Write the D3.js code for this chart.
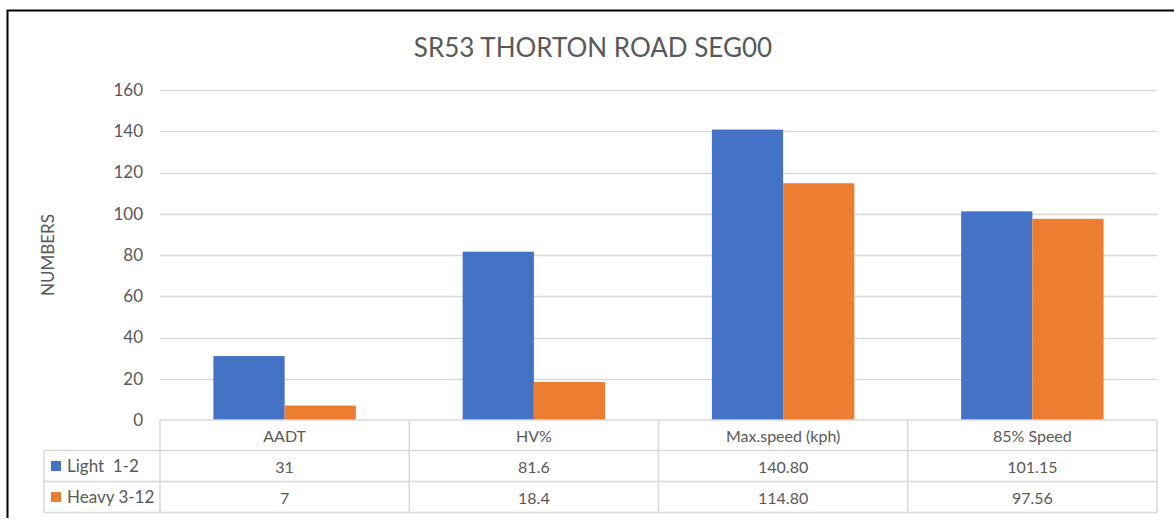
<!DOCTYPE html>
<html>
<head>
<meta charset="utf-8">
<script src="https://cdn.jsdelivr.net/npm/d3@7"></script>
<style>
  html, body { margin: 0; padding: 0; background: #fff; }
  svg text { font-family: Lato, "Open Sans", sans-serif; fill: #595959; }
</style>
</head>
<body>
<div id="chart"></div>
<script>
// chart data
const title = 'SR53 THORTON ROAD SEG00';
const categories = ['AADT', 'HV%', 'Max.speed (kph)', '85% Speed'];
const seriesNames = ['Light  1-2', 'Heavy 3-12'];
const lightValues = [31, 81.6, 140.80, 101.15];
const heavyValues = [7, 18.4, 114.80, 97.56];
const lightLabels = ['31', '81.6', '140.80', '101.15'];
const heavyLabels = ['7', '18.4', '114.80', '97.56'];
const yTicks = [0, 20, 40, 60, 80, 100, 120, 140, 160];

const colors = ['#4472c4', '#ed7d31'];
const W = 1174, H = 519;

const svg = d3.select('#chart').append('svg')
  .attr('width', W).attr('height', H);

// outer frame (left + top visible)
svg.append('path')
  .attr('d', 'M7.5,518 L7.5,10.5 L1174,10.5')
  .attr('fill', 'none').attr('stroke', '#000').attr('stroke-width', 2);

const plot = { left: 160, right: 1157, top: 90, bottom: 420 };

const x = d3.scaleBand().domain(categories).range([plot.left, plot.right]);
const y = d3.scaleLinear().domain([0, 160]).range([plot.bottom, plot.top]);
const inner = d3.scaleBand().domain(seriesNames).range([0, x.bandwidth()])
  .paddingInner(0).paddingOuter(0.75);

// title
svg.append('text')
  .attr('x', 593).attr('y', 57)
  .attr('text-anchor', 'middle')
  .style('font-size', '26px')
  .text(title);

// gridlines
svg.append('g').selectAll('line')
  .data(yTicks.filter(d => d > 0))
  .join('line')
  .attr('x1', plot.left).attr('x2', plot.right)
  .attr('y1', d => Math.round(y(d)) + 0.5).attr('y2', d => Math.round(y(d)) + 0.5)
  .attr('stroke', '#d9d9d9').attr('stroke-width', 1.5);

// y tick labels
svg.append('g').selectAll('text')
  .data(yTicks)
  .join('text')
  .attr('x', 143).attr('y', d => y(d))
  .attr('dy', '0.35em')
  .attr('text-anchor', 'end')
  .style('font-size', '17px')
  .text(d => d);

// y axis title
svg.append('text')
  .attr('transform', 'translate(54,255) rotate(-90)')
  .attr('text-anchor', 'middle')
  .style('font-size', '17px')
  .text('NUMBERS');

// bars
const series = [lightValues, heavyValues];
series.forEach((vals, si) => {
  svg.append('g').selectAll('rect')
    .data(categories.map((c, i) => ({ c, v: vals[i] })))
    .join('rect')
    .attr('x', d => x(d.c) + inner(seriesNames[si]))
    .attr('y', d => y(d.v))
    .attr('width', inner.bandwidth())
    .attr('height', d => y(0) - y(d.v))
    .attr('fill', colors[si]);
});

// data table
const rows = [plot.bottom, 450.5, 481.5, 512.5];
const tableLeft = 44;
const grid = svg.append('g').attr('stroke', '#d9d9d9').attr('stroke-width', 1.5);
grid.append('line').attr('x1', plot.left).attr('x2', plot.right).attr('y1', rows[0]).attr('y2', rows[0]);
rows.slice(1).forEach(r => {
  grid.append('line').attr('x1', tableLeft).attr('x2', plot.right).attr('y1', r).attr('y2', r);
});
grid.append('line').attr('x1', tableLeft).attr('x2', tableLeft).attr('y1', rows[1]).attr('y2', rows[3]);
categories.forEach(c => {
  grid.append('line').attr('x1', x(c)).attr('x2', x(c)).attr('y1', rows[0]).attr('y2', rows[3]);
});
grid.append('line').attr('x1', plot.right).attr('x2', plot.right).attr('y1', rows[0]).attr('y2', rows[3]);

const cellText = (txt, cx, r0, r1) => svg.append('text')
  .attr('x', cx).attr('y', (r0 + r1) / 2 + 1)
  .attr('dy', '0.35em').attr('text-anchor', 'middle')
  .style('font-size', '16px').text(txt);

categories.forEach(c => cellText(c, x(c) + x.bandwidth() / 2, rows[0], rows[1]));
[lightLabels, heavyLabels].forEach((labels, si) => {
  labels.forEach((t, i) => cellText(t, x(categories[i]) + x.bandwidth() / 2, rows[si + 1], rows[si + 2]));
  const cy = (rows[si + 1] + rows[si + 2]) / 2;
  svg.append('rect')
    .attr('x', 51).attr('y', cy - 5).attr('width', 10).attr('height', 10)
    .attr('fill', colors[si]);
  svg.append('text')
    .attr('x', 67).attr('y', cy).attr('dy', '0.35em')
    .style('font-size', '17px').style('white-space', 'pre')
    .attr('xml:space', 'preserve')
    .text(seriesNames[si]);
});
</script>
</body>
</html>
